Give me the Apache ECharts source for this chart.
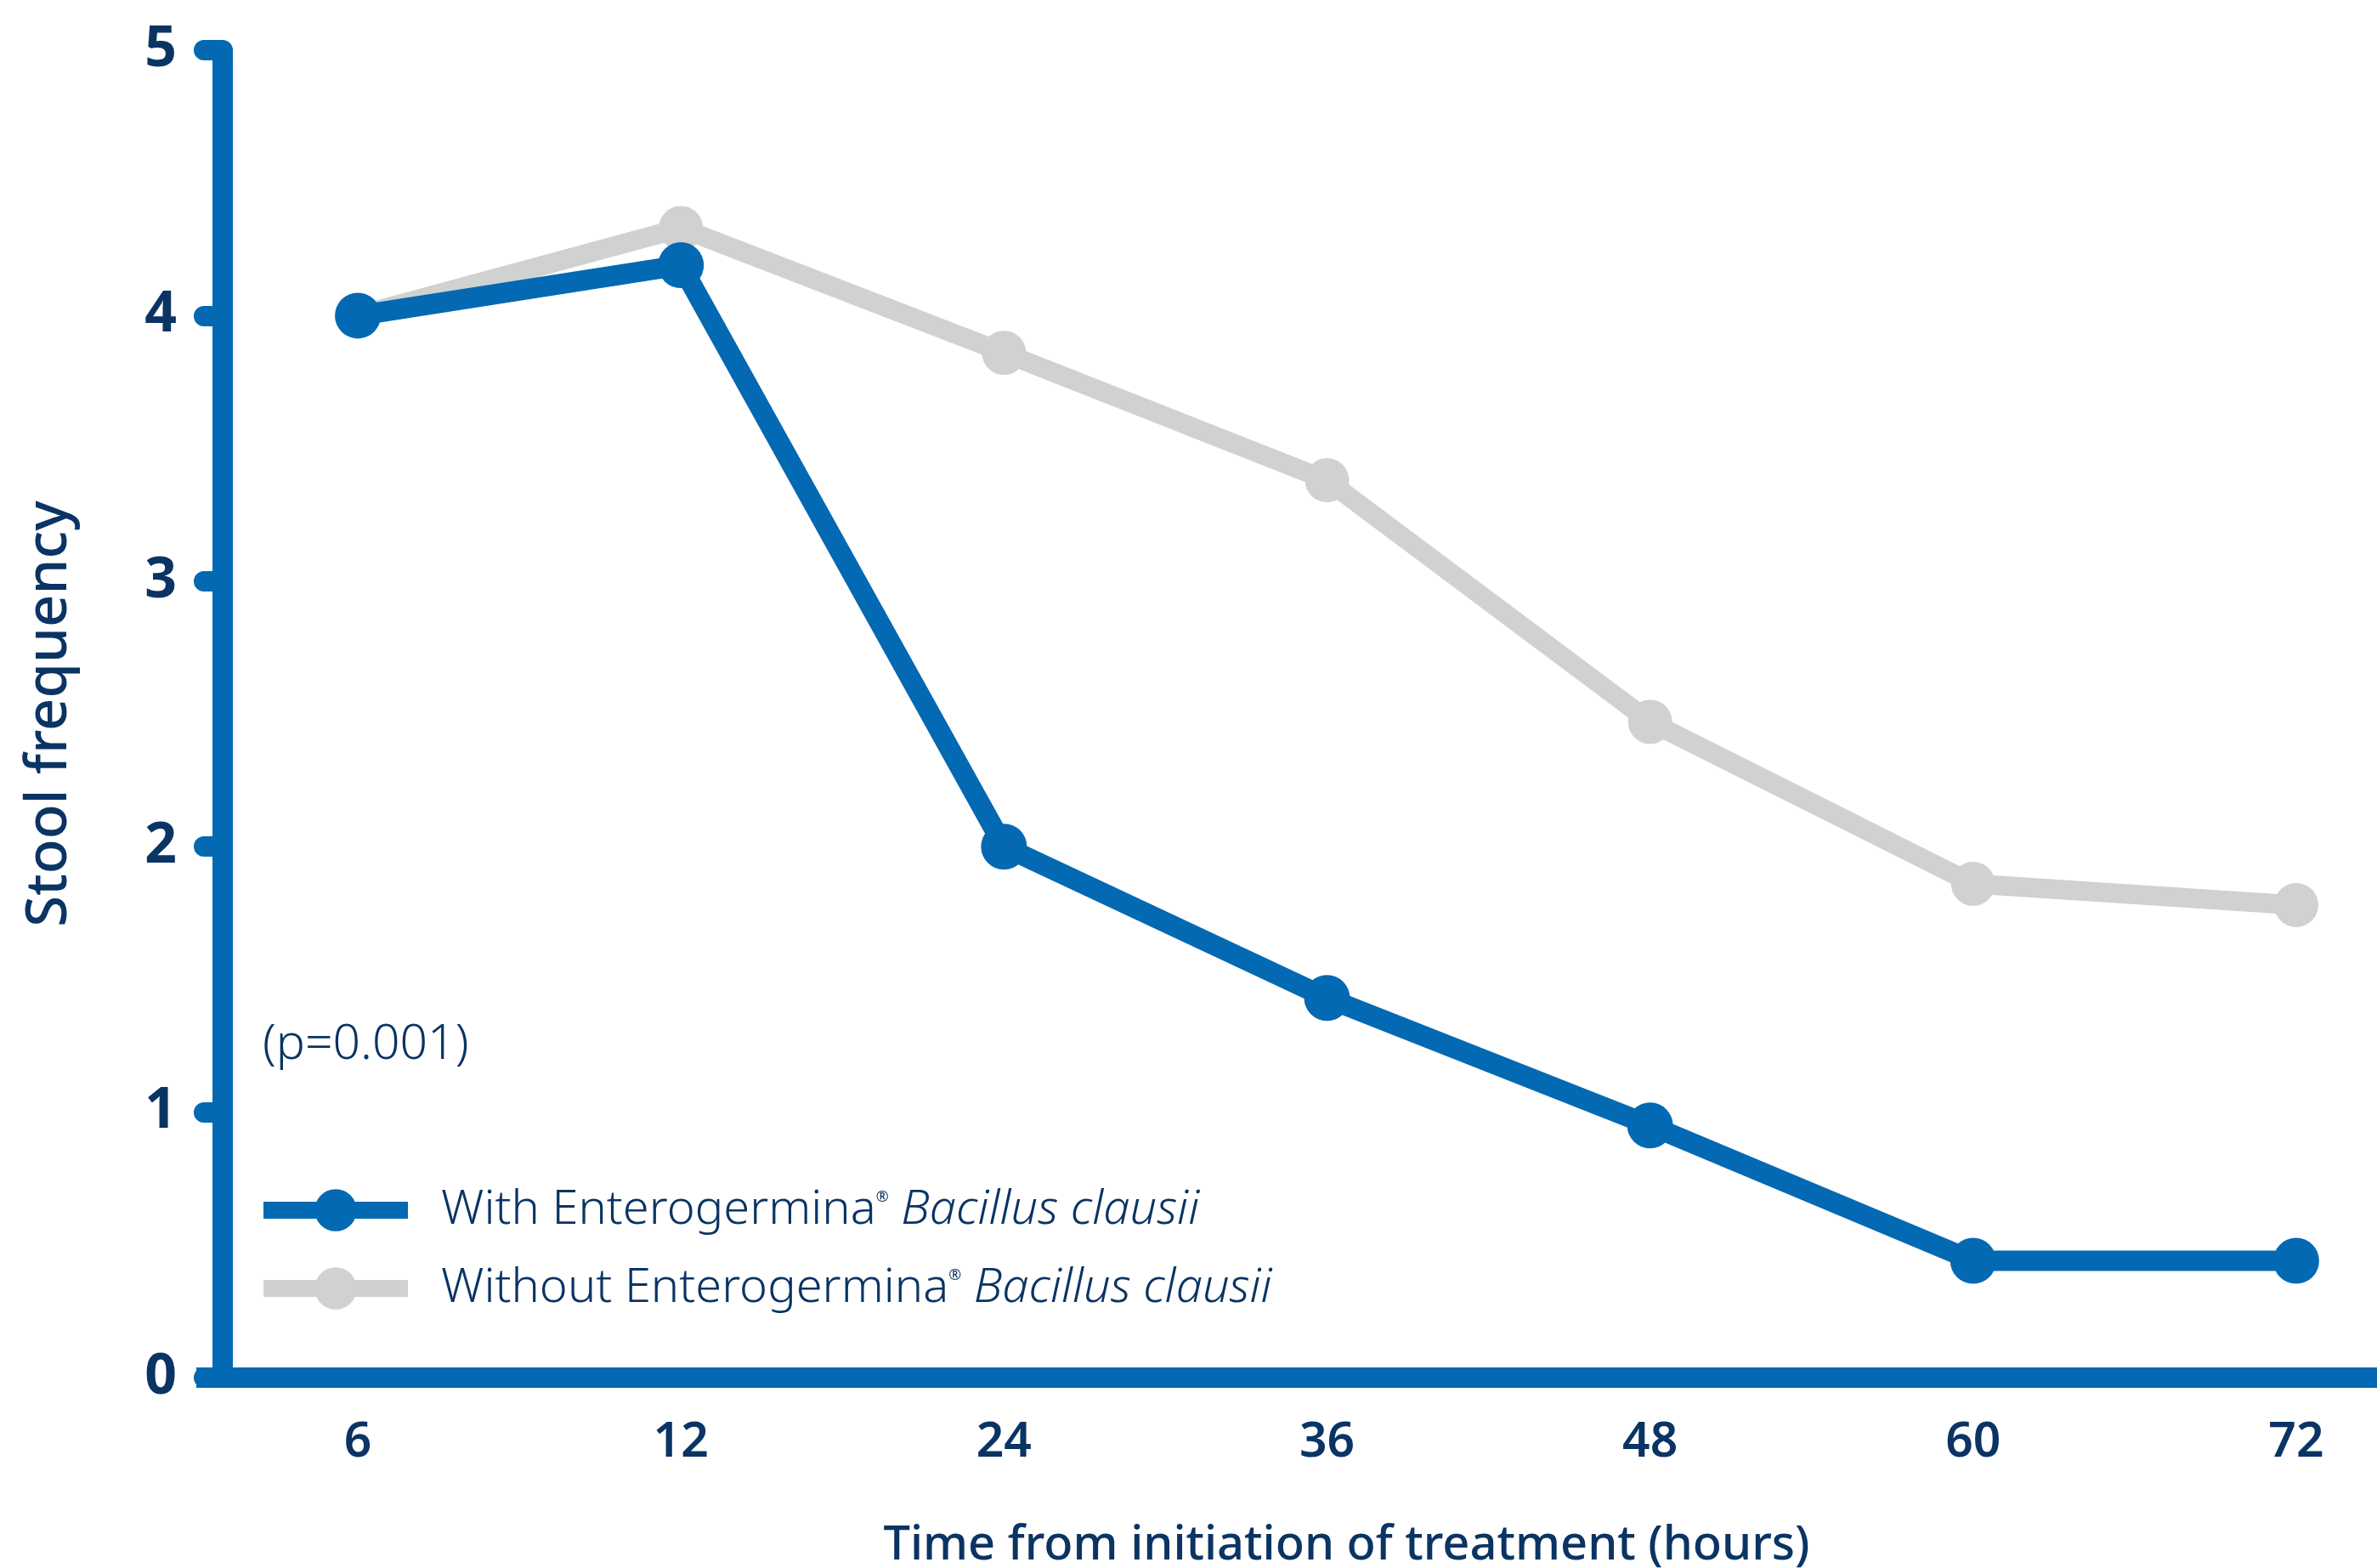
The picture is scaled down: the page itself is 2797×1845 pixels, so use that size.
<!DOCTYPE html>
<html>
<head>
<meta charset="utf-8">
<script src="https://cdn.jsdelivr.net/npm/echarts@6/dist/echarts.min.js"></script>
<style>
  html, body { margin: 0; padding: 0; background: #ffffff; }
  #chart { width: 2797px; height: 1845px; }
</style>
</head>
<body>
<div id="chart"></div>
<script>
const hours = ['6', '12', '24', '36', '48', '60', '72'];
const withEnterogermina = [4.0, 4.19, 2.0, 1.43, 0.95, 0.44, 0.44];
const withoutEnterogermina = [4.0, 4.33, 3.86, 3.38, 2.47, 1.86, 1.78];
const seriesNames = ['With Enterogermina® Bacillus clausii', 'Without Enterogermina® Bacillus clausii'];
const yTicks = [0, 1, 2, 3, 4, 5];
const pValueText = '(p=0.001)';
const xAxisTitle = 'Time from initiation of treatment (hours)';
const yAxisTitle = 'Stool frequency';

const BLUE = '#0369b3';
const GRAY = '#d0d2d1';
const NAVY = '#0a3463';
const FONT = '"Noto Sans", "Open Sans", sans-serif';

const chart = echarts.init(document.getElementById('chart'), null, { renderer: 'canvas' });

function legendFormatter(name) {
  const parts = name.split('® ');
  return '{n|' + parts[0] + '}{sup|®}{n| }{i|' + parts[1] + '}';
}

const option = {
  backgroundColor: '#ffffff',
  animation: false,
  grid: { left: 231, width: 2661, top: 59, bottom: 224, containLabel: false, outerBoundsMode: 'none' },
  xAxis: {
    type: 'category',
    data: hours,
    boundaryGap: true,
    axisLine: { show: true, lineStyle: { color: BLUE, width: 24, cap: 'butt' } },
    axisTick: { show: false },
    axisLabel: { color: NAVY, fontFamily: FONT, fontSize: 57, fontWeight: 600, margin: 48 },
    splitLine: { show: false },
    name: xAxisTitle,
    nameLocation: 'middle',
    nameGap: 170,
    nameTextStyle: { color: NAVY, fontFamily: FONT, fontSize: 56, fontWeight: 500, padding: [0, 0, 0, 46] }
  },
  yAxis: {
    type: 'value',
    min: yTicks[0],
    max: yTicks[yTicks.length - 1],
    interval: 1,
    offset: -31,
    axisLine: { show: true, lineStyle: { color: BLUE, width: 24, cap: 'butt' } },
    axisTick: { show: true, length: 22, lineStyle: { color: BLUE, width: 24, cap: 'round' } },
    axisLabel: { color: NAVY, fontFamily: FONT, fontSize: 66, fontWeight: 700, margin: 54 },
    splitLine: { show: false },
    name: yAxisTitle,
    nameLocation: 'middle',
    nameGap: 170,
    nameRotate: 90,
    nameTextStyle: { color: NAVY, fontFamily: FONT, fontSize: 67, fontWeight: 500 }
  },
  legend: {
    orient: 'vertical',
    left: 300,
    top: 1396,
    padding: 0,
    itemWidth: 170,
    itemHeight: 62,
    itemGap: 36,
    selectedMode: false,
    lineStyle: { width: 20 },
    data: seriesNames,
    formatter: legendFormatter,
    textStyle: {
      color: NAVY,
      fontFamily: FONT,
      fontSize: 56,
      padding: [0, 0, 0, 34],
      rich: {
        n: { color: NAVY, fontFamily: FONT, fontSize: 56, fontWeight: 300, lineHeight: 62 },
        i: { color: NAVY, fontFamily: FONT, fontSize: 56, fontWeight: 300, fontStyle: 'italic', lineHeight: 62 },
        sup: { color: NAVY, fontFamily: FONT, fontSize: 18, padding: [0, 0, 30, 0] }
      }
    }
  },
  graphic: [
    {
      type: 'text',
      x: 309,
      y: 1230,
      style: { text: pValueText, fill: NAVY, font: '300 57px ' + FONT, verticalAlign: 'middle', align: 'left' }
    }
  ],
  series: [
    {
      name: seriesNames[1],
      type: 'line',
      data: withoutEnterogermina,
      symbol: 'circle',
      symbolSize: 52,
      showSymbol: true,
      lineStyle: { color: GRAY, width: 23 },
      itemStyle: { color: GRAY },
      z: 2
    },
    {
      name: seriesNames[0],
      type: 'line',
      data: withEnterogermina,
      symbol: 'circle',
      symbolSize: 54,
      showSymbol: true,
      lineStyle: { color: BLUE, width: 24 },
      itemStyle: { color: BLUE },
      z: 3
    }
  ]
};

chart.setOption(option);
</script>
</body>
</html>
